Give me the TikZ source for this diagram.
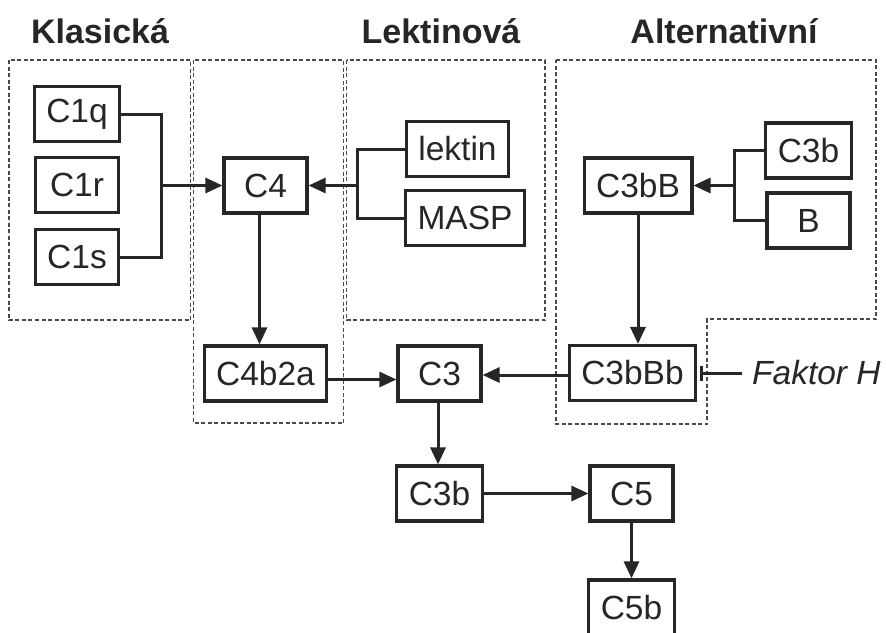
\documentclass[tikz,border=0pt]{standalone}
\usepackage{fontspec}
\setmainfont{Liberation Sans}
\usetikzlibrary{arrows.meta}
\definecolor{ink}{HTML}{262626}
\definecolor{dash}{HTML}{4A4A4A}
\newcommand{\nodefnt}{\fontsize{33.5}{38}\selectfont}
\newcommand{\titlefnt}{\fontsize{34}{40}\selectfont\bfseries}
\tikzset{
  box/.style={draw=ink, text=ink, line width=3.2pt, minimum width=83pt, minimum height=55pt,
    inner xsep=12pt, inner ysep=0pt, font=\nodefnt},
  conn/.style={draw=ink, line width=3pt},
  arr/.style={conn, -{Triangle[length=17pt,width=15pt]}},
  tee/.style={conn, -{Bar[width=15pt,line width=3pt]}},
  group/.style={draw=dash, line width=1.7pt, dash pattern=on 4pt off 2.5pt},
  ttl/.style={text=ink, font=\titlefnt, anchor=base, inner sep=0pt},
}
\begin{document}
\begin{tikzpicture}[x=1pt,y=-1pt]
\clip (0,0) rectangle (886,632);
\useasboundingbox (0,0) rectangle (886,632);

% titles
\node[ttl] (tK) at (100,43) {Klasická};
\node[ttl] (tL) at (441,43) {Lektinová};
\node[ttl] (tA) at (724,43) {Alternativní};

% dashed groups
\draw[group] (9,60) rectangle (190.5,320);
\draw[group] (193.5,60) rectangle (343.5,423);
\draw[group] (346.5,60) rectangle (545,320);
\draw[group] (556,60) -- (876,60) -- (876,319) -- (707,319) -- (707,424) -- (556,424) -- cycle;

% nodes
\node[box] (C1q) at (77,114) {C1q};
\node[box] (C1r) at (77,185) {C1r};
\node[box] (C1s) at (77,257) {C1s};
\node[box] (C4) at (265.5,185.5) {C4};
\node[box] (lektin) at (457.5,149) {lektin};
\node[box] (MASP) at (465,218) {MASP};
\node[box] (C3bB) at (638,185.5) {C3bB};
\node[box] (C3bt) at (808.5,150.5) {C3b};
\node[box] (B) at (808.5,220.5) {B};
\node[box] (C4b2a) at (265.5,373.5) {C4b2a};
\node[box] (C3) at (439.5,373.5) {C3};
\node[box] (C3bBb) at (632.5,373) {C3bBb};
\node[box] (C3b) at (439.5,493.5) {C3b};
\node[box] (C5) at (631.5,493.5) {C5};
\node[box] (C5b) at (631.5,607.5) {C5b};
\node[text=ink, font=\nodefnt\itshape, anchor=west, inner sep=0pt] (FH) at (752,373) {Faktor H};

% junctions
\coordinate (j1) at (161,185.5);
\coordinate (j2) at (357,185.5);
\coordinate (j3) at (734,185.5);
\coordinate (teeend) at (700,373);

% connectors
\draw[conn] (C1q.east) -| (j1);
\draw[conn] (C1s.east) -| (j1);
\draw[arr] (j1) -- (C4.west);
\draw[conn] (lektin.west) -| (j2);
\draw[conn] (MASP.west) -| (j2);
\draw[arr] (j2) -- (C4.east);
\draw[conn] (C3bt.west) -| (j3);
\draw[conn] (B.west) -| (j3);
\draw[arr] (j3) -- (C3bB.east);
\draw[arr] ([xshift=-6pt]C4.south) -- ([xshift=-6pt]C4.south |- C4b2a.north);
\draw[arr] ([yshift=-6pt]C4b2a.east) -- ([yshift=-6pt]C4b2a.east -| C3.west);
\draw[arr] ([yshift=-2pt]C3bBb.west) -- ([yshift=-2pt]C3bBb.west -| C3.east);
\draw[arr] (C3bB.south) -- (C3bB.south |- C3bBb.north);
\draw[arr] ([xshift=-1.5pt]C3.south) -- ([xshift=-1.5pt]C3.south |- C3b.north);
\draw[arr] (C3b.east) -- (C5.west);
\draw[arr] (C5.south) -- (C5b.north);
\draw[tee] ([xshift=-10pt]FH.west) -- (teeend);
\end{tikzpicture}
\end{document}
